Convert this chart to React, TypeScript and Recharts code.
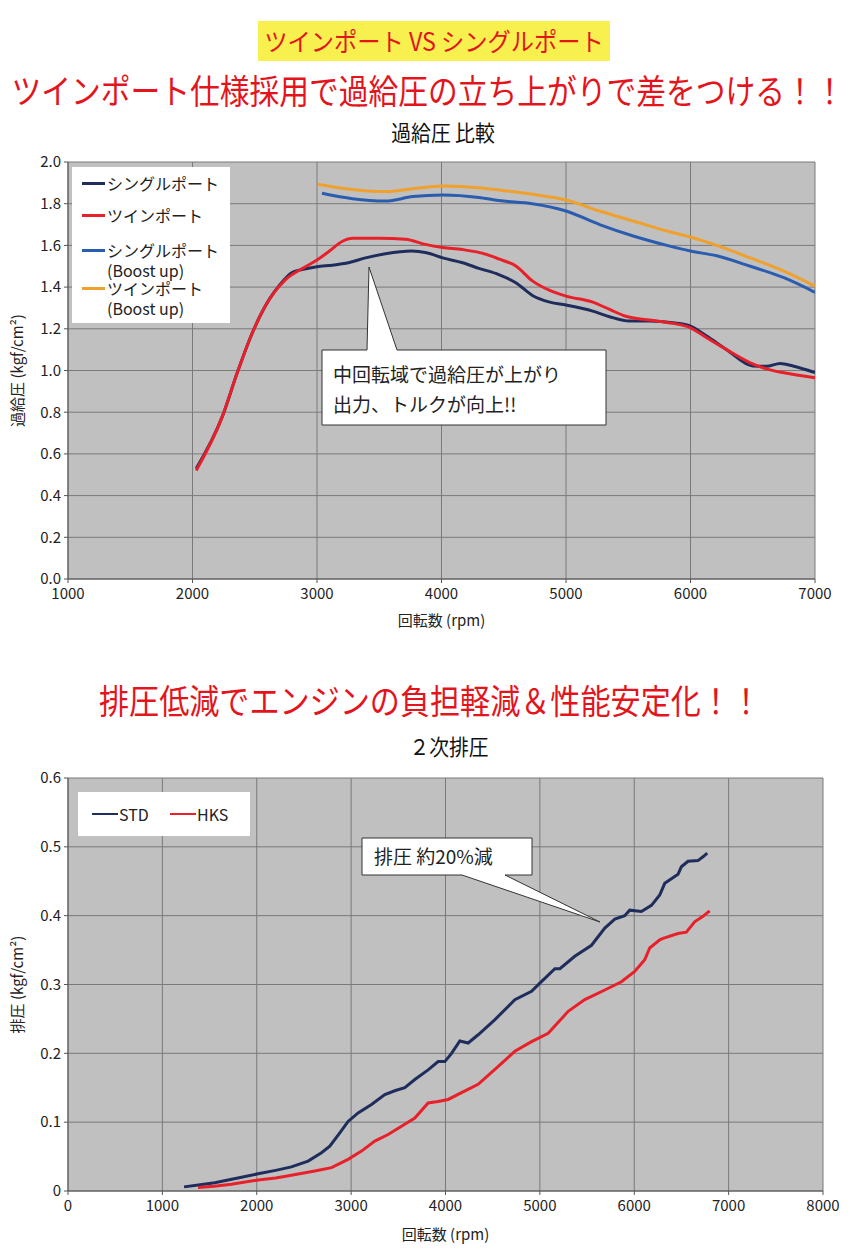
import { CartesianGrid, Label, Legend, Line, LineChart, XAxis, YAxis } from "recharts";

const FONT = "'Noto Sans CJK JP', 'Noto Sans', sans-serif";

// 過給圧 比較
const singleRpm = [2030, 2240, 2360, 2480, 2615, 2700, 2800, 2910, 3000, 3125, 3260, 3390, 3550, 3760, 3880, 4010, 4170, 4300, 4460, 4600, 4730, 4870, 5000, 5215, 5350, 5510, 5670, 5860, 6000, 6130, 6290, 6500, 6610, 6720, 6830, 7000];
const singleVal = [0.53, 0.78, 0.99, 1.18, 1.34, 1.41, 1.47, 1.488, 1.498, 1.505, 1.518, 1.54, 1.56, 1.573, 1.565, 1.54, 1.517, 1.49, 1.46, 1.42, 1.36, 1.328, 1.314, 1.285, 1.258, 1.237, 1.238, 1.229, 1.213, 1.165, 1.1, 1.022, 1.02, 1.034, 1.02, 0.99];
const twinRpm = [2030, 2240, 2360, 2480, 2600, 2750, 2885, 3000, 3100, 3205, 3285, 3500, 3710, 3870, 4010, 4170, 4360, 4460, 4600, 4730, 4870, 5000, 5215, 5350, 5480, 5670, 5860, 6000, 6130, 6290, 6480, 6610, 6750, 7000];
const twinVal = [0.52, 0.78, 0.99, 1.18, 1.325, 1.437, 1.49, 1.53, 1.573, 1.62, 1.634, 1.634, 1.63, 1.605, 1.59, 1.58, 1.557, 1.535, 1.5, 1.43, 1.384, 1.357, 1.328, 1.293, 1.26, 1.242, 1.226, 1.205, 1.157, 1.1, 1.037, 1.008, 0.989, 0.965];
const singleBoostRpm = [3040, 3285, 3550, 3770, 4010, 4300, 4460, 4730, 5000, 5270, 5540, 5810, 6000, 6210, 6480, 6750, 7000];
const singleBoostVal = [1.85, 1.824, 1.813, 1.834, 1.842, 1.83, 1.815, 1.8, 1.765, 1.7, 1.645, 1.6, 1.573, 1.55, 1.5, 1.445, 1.375];
const twinBoostRpm = [3005, 3230, 3550, 3770, 4010, 4300, 4460, 4730, 5000, 5270, 5540, 5810, 6000, 6210, 6480, 6750, 7000];
const twinBoostVal = [1.893, 1.872, 1.858, 1.872, 1.885, 1.877, 1.866, 1.845, 1.818, 1.765, 1.717, 1.669, 1.64, 1.6, 1.54, 1.477, 1.405];

const boostNames = ["シングルポート", "ツインポート", "シングルポート\n(Boost up)", "ツインポート\n(Boost up)"];
const boostColors = ["#1f2d5c", "#e8202a", "#2a5cb0", "#f0a02c"];
const boostXTicks = [1000, 2000, 3000, 4000, 5000, 6000, 7000];
const boostYTicks = [0, 0.2, 0.4, 0.6, 0.8, 1.0, 1.2, 1.4, 1.6, 1.8, 2.0];

// 2次排圧
const stdRpm = [1230, 1400, 1555, 1800, 2014, 2200, 2367, 2544, 2686, 2774, 2880, 2968, 3074, 3216, 3357, 3470, 3569, 3675, 3816, 3922, 3993, 4064, 4152, 4240, 4346, 4524, 4735, 4912, 5000, 5159, 5212, 5370, 5547, 5688, 5794, 5899, 5952, 6076, 6182, 6270, 6323, 6464, 6499, 6570, 6675, 6728, 6774];
const stdVal = [0.006, 0.009, 0.012, 0.019, 0.025, 0.03, 0.035, 0.0435, 0.0556, 0.065, 0.0845, 0.101, 0.1135, 0.1256, 0.14, 0.146, 0.15, 0.162, 0.176, 0.188, 0.188, 0.2, 0.218, 0.215, 0.227, 0.249, 0.278, 0.29, 0.302, 0.323, 0.323, 0.341, 0.357, 0.382, 0.395, 0.4, 0.408, 0.406, 0.415, 0.43, 0.447, 0.46, 0.471, 0.479, 0.48, 0.4855, 0.491];
const hksRpm = [1378, 1550, 1731, 2014, 2200, 2367, 2615, 2792, 2968, 3110, 3251, 3392, 3534, 3675, 3816, 3922, 4028, 4170, 4346, 4559, 4735, 4912, 5088, 5300, 5476, 5688, 5864, 6005, 6111, 6164, 6270, 6305, 6464, 6552, 6640, 6728, 6799];
const hksVal = [0.005, 0.007, 0.0097, 0.016, 0.019, 0.023, 0.029, 0.034, 0.046, 0.058, 0.0725, 0.082, 0.094, 0.106, 0.128, 0.13, 0.133, 0.143, 0.155, 0.181, 0.203, 0.217, 0.229, 0.261, 0.278, 0.292, 0.304, 0.319, 0.336, 0.353, 0.365, 0.367, 0.374, 0.376, 0.391, 0.399, 0.407];

const exhaustNames = ["STD", "HKS"];
const exhaustColors = ["#1f2d5c", "#e8202a"];
const exhaustXTicks = [0, 1000, 2000, 3000, 4000, 5000, 6000, 7000, 8000];
const exhaustYTicks = [0, 0.1, 0.2, 0.3, 0.4, 0.5, 0.6];

const zip = (xs: number[], ys: number[]) => xs.map((rpm, i) => ({ rpm, v: ys[i] }));

const boostSeries = [
  zip(singleRpm, singleVal),
  zip(twinRpm, twinVal),
  zip(singleBoostRpm, singleBoostVal),
  zip(twinBoostRpm, twinBoostVal),
];
const exhaustSeries = [zip(stdRpm, stdVal), zip(hksRpm, hksVal)];

const tickStyle = { fill: "#222", fontSize: 15, fontFamily: FONT };
const axisLabelStyle = { fill: "#222", fontSize: 15, fontFamily: FONT, textAnchor: "middle" as const };

// centred heading, squeezed a little horizontally like the original artwork
function Heading({ text, top, size, center = 425, color = "#e3141c", sx = 0.9 }: { text: string; top: number; size: number; center?: number; color?: string; sx?: number }) {
  return (
    <div style={{ position: "absolute", top, left: center, width: 0, height: size + 6 }}>
      <span
        style={{
          position: "absolute",
          left: 0,
          top: 0,
          fontFamily: FONT,
          fontSize: size,
          lineHeight: `${size + 6}px`,
          color,
          whiteSpace: "nowrap",
          transform: `translateX(-50%) scaleX(${sx})`,
        }}
      >
        {text}
      </span>
    </div>
  );
}

function BoostLegend() {
  const tops = [6, 38, 73, 111];
  return (
    <div style={{ position: "relative", width: 158, height: 156, background: "#fff", fontFamily: FONT, fontSize: 16, color: "#222" }}>
      {boostNames.map((n, i) => (
        <div key={n + i} style={{ position: "absolute", left: 0, top: tops[i], width: 158 }}>
          <div style={{ position: "absolute", left: 10, top: 9, width: 23, height: 3, background: boostColors[i] }} />
          <div style={{ position: "absolute", left: 35, top: 0, lineHeight: "20px", whiteSpace: "pre" }}>{n}</div>
        </div>
      ))}
    </div>
  );
}

function ExhaustLegend() {
  const lefts = [14, 92];
  return (
    <div style={{ position: "relative", width: 172, height: 44, background: "#fff", fontFamily: FONT, fontSize: 16, color: "#222" }}>
      {exhaustNames.map((n, i) => (
        <div key={n}>
          <div style={{ position: "absolute", left: lefts[i], top: 21, width: 26, height: 2, background: exhaustColors[i] }} />
          <div style={{ position: "absolute", left: lefts[i] + 27, top: 12, lineHeight: "20px" }}>{n}</div>
        </div>
      ))}
    </div>
  );
}

export default function App() {
  return (
    <div style={{ position: "absolute", left: 0, top: 0, width: 850, height: 1260, background: "#fff", overflow: "hidden" }}>
      <div style={{ position: "absolute", left: 258, top: 21, width: 352, height: 40, background: "#f8f04e" }} />
      <Heading text="ツインポート VS シングルポート" top={25} size={25} center={434} sx={0.93} />
      <Heading text="ツインポート仕様採用で過給圧の立ち上がりで差をつける！！" top={70} size={34} center={428} sx={0.875} />
      <Heading text="過給圧 比較" top={117} size={22} center={443} color="#111" />
      <Heading text="排圧低減でエンジンの負担軽減＆性能安定化！！" top={680} size={34} center={430} sx={0.885} />
      <Heading text="２次排圧" top={731} size={22} center={449} color="#111" />

      <div style={{ position: "absolute", left: 0, top: 140 }}>
        <LineChart width={850} height={500} margin={{ top: 22, right: 35, left: 8, bottom: 0 }}>
          <CartesianGrid stroke="#7a7a7a" fill="#c0c0c0" fillOpacity={1} />
          <XAxis
            type="number"
            dataKey="rpm"
            domain={[1000, 7000]}
            ticks={boostXTicks}
            allowDataOverflow
            height={61}
            stroke="#555"
            tickSize={4}
            tickMargin={5}
            tick={tickStyle}
          >
            <Label value="回転数 (rpm)" position="insideBottom" offset={14} style={axisLabelStyle} />
          </XAxis>
          <YAxis
            type="number"
            domain={[0, 2]}
            ticks={boostYTicks}
            width={60}
            stroke="#555"
            tickSize={4}
            tickMargin={3}
            tick={tickStyle}
            tickFormatter={(v: number) => v.toFixed(1)}
          >
            <Label value="過給圧 (kgf/cm²)" angle={-90} position="insideLeft" offset={10} style={axisLabelStyle} />
          </YAxis>
          <Legend
            layout="horizontal"
            align="center"
            verticalAlign="middle"
            content={() => <BoostLegend />}
            wrapperStyle={{ left: 72, top: 27, width: 158 }}
          />
          {boostSeries.map((d, i) => (
            <Line
              key={boostNames[i]}
              data={d}
              dataKey="v"
              name={boostNames[i]}
              type="monotone"
              stroke={boostColors[i]}
              strokeWidth={3}
              dot={false}
              isAnimationActive={false}
            />
          ))}
        </LineChart>
      </div>

      <div style={{ position: "absolute", left: 0, top: 760 }}>
        <LineChart width={850} height={500} margin={{ top: 18, right: 27, left: 8, bottom: 0 }}>
          <CartesianGrid stroke="#7a7a7a" fill="#c0c0c0" fillOpacity={1} />
          <XAxis
            type="number"
            dataKey="rpm"
            domain={[0, 8000]}
            ticks={exhaustXTicks}
            height={69}
            stroke="#555"
            tickSize={4}
            tickMargin={5}
            tick={tickStyle}
          >
            <Label value="回転数 (rpm)" position="insideBottom" offset={20} style={axisLabelStyle} />
          </XAxis>
          <YAxis
            type="number"
            domain={[0, 0.6]}
            ticks={exhaustYTicks}
            width={60}
            stroke="#555"
            tickSize={4}
            tickMargin={3}
            tick={tickStyle}
            tickFormatter={(v: number) => (v === 0 ? "0" : v.toFixed(1))}
          >
            <Label value="排圧 (kgf/cm²)" angle={-90} position="insideLeft" offset={10} style={axisLabelStyle} />
          </YAxis>
          <Legend
            layout="horizontal"
            align="center"
            verticalAlign="middle"
            content={() => <ExhaustLegend />}
            wrapperStyle={{ left: 78, top: 32, width: 172 }}
          />
          {exhaustSeries.map((d, i) => (
            <Line
              key={exhaustNames[i]}
              data={d}
              dataKey="v"
              name={exhaustNames[i]}
              type="linear"
              stroke={exhaustColors[i]}
              strokeWidth={3}
              dot={false}
              isAnimationActive={false}
            />
          ))}
        </LineChart>
      </div>

      <svg width={850} height={1260} style={{ position: "absolute", left: 0, top: 0, pointerEvents: "none" }}>
        <path
          d="M322,350 L367,350 L369,267 L397,350 L606,350 L606,425 L322,425 Z"
          fill="#fff"
          stroke="#333"
          strokeWidth={1}
        />
        <text x={333} y={382} fontFamily={FONT} fontSize={19} fill="#222">中回転域で過給圧が上がり</text>
        <text x={333} y={412} fontFamily={FONT} fontSize={19} fill="#222">出力、トルクが向上!!</text>
        <path
          d="M362,838 L532,838 L532,875 L505,875 L600,922 L462,875 L362,875 Z"
          fill="#fff"
          stroke="#333"
          strokeWidth={1}
        />
        <text x={374} y={864} fontFamily={FONT} fontSize={19} fill="#222">排圧 約20%減</text>
      </svg>
    </div>
  );
}
